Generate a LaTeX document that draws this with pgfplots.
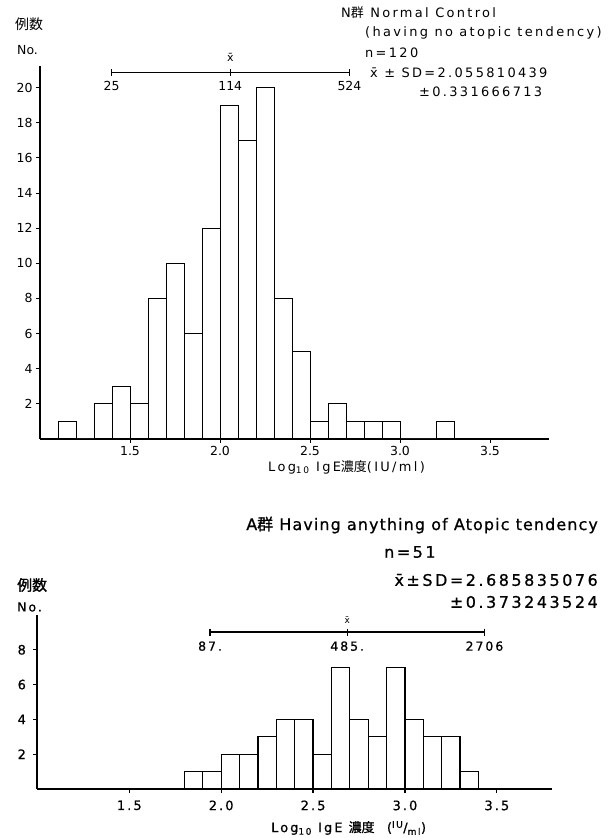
\documentclass[border=0pt]{standalone}
\usepackage{fontspec}
\setmainfont{DejaVu Sans}
\newfontfamily\cjk{Noto Sans CJK JP}
\newfontfamily\wide{DejaVu Sans}[LetterSpace=18]
\newfontfamily\bwide{DejaVu Sans}[LetterSpace=16, FakeBold=0.8]
\newfontfamily\btitle{DejaVu Sans}[LetterSpace=7, FakeBold=0.8]
\newfontfamily\bcjk{Noto Sans CJK JP}[FakeBold=1.2]
\usepackage{pgfplots}
\pgfplotsset{compat=1.18}

% counts per 0.1 log-unit bin (left edge, count); last row closes the final bin
\pgfplotstableread{
x    n
1.1  1
1.2  0
1.3  2
1.4  3
1.5  2
1.6  8
1.7  10
1.8  6
1.9  12
2.0  19
2.1  17
2.2  20
2.3  8
2.4  5
2.5  1
2.6  2
2.7  1
2.8  1
2.9  1
3.0  0
3.1  0
3.2  1
3.3  0
}\normalgroup
\pgfplotstableread{
x    n
1.8  1
1.9  1
2.0  2
2.1  2
2.2  3
2.3  4
2.4  4
2.5  2
2.6  7
2.7  4
2.8  3
2.9  7
3.0  4
3.1  3
3.2  3
3.3  1
3.4  0
}\atopicgroup

\pgfplotsset{
  histo/.style={
    scale only axis, clip=false,
    xmin=1.0, ymin=0,
    axis x line=bottom, axis y line=left,
    axis line style={-},
    xtick={1.5,2.0,2.5,3.0,3.5},
    xticklabels={1.5,2.0,2.5,3.0,3.5},
    tick align=outside, major tick length=4bp,
    tick style={black},
    /pgf/number format/assume math mode=true,
  },
}

\begin{document}
\begin{tikzpicture}
\useasboundingbox (0,0) rectangle (609bp,838bp);

% ---------- N group ----------
\begin{axis}[histo,
  at={(40bp,399bp)}, anchor=south west,
  width=509.4bp, height=372.5bp,
  xmax=3.83, ymax=21.2,
  ytick={2,4,...,20},
  axis line style={line width=1.1bp},
  tick style={line width=0.9bp},
  ticklabel style={font=\fontsize{12.5}{12.5}\selectfont},
]
\addplot[ybar interval, draw=black, fill=white, line width=1bp]
  table[x=x, y=n] {\normalgroup};
% mean +- 2SD on the log scale: 25, 114, 524 IU/ml
\addplot[black, line width=0.9bp, mark=|, mark size=3.5bp,
  mark options={line width=0.9bp}]
  coordinates {(1.398,20.85) (2.057,20.85) (2.719,20.85)};
\node[anchor=north, font=\fontsize{12.5}{12.5}\selectfont, inner sep=1bp]
  at (axis cs:1.398,20.4) {25};
\node[anchor=north, font=\fontsize{12.5}{12.5}\selectfont, inner sep=1bp]
  at (axis cs:2.057,20.4) {114};
\node[anchor=north, font=\fontsize{12.5}{12.5}\selectfont, inner sep=1bp]
  at (axis cs:2.719,20.4) {524};
\node[anchor=south, font=\fontsize{11}{11}\selectfont, inner sep=1bp]
  at (axis cs:2.057,21.4) {\={x}};
\end{axis}

\node[anchor=west, inner sep=0pt, font=\fontsize{14}{14}\selectfont]
  at (15bp,814bp) {\cjk 例数};
\node[anchor=west, inner sep=0pt, font=\fontsize{12.5}{12.5}\selectfont]
  at (17bp,788bp) {No.};
\begin{scope}[every node/.style={anchor=west, inner sep=0pt,
    font=\fontsize{13}{13}\selectfont\wide}]
\node at (341bp,825bp) {N{\cjk 群} Normal Control};
\node at (365bp,805bp) {(having no atopic tendency)};
\node at (365bp,785bp) {n=120};
\node at (370bp,765bp) {\={x} ± SD=2.055810439};
\node at (419bp,746bp) {±0.331666713};
\node at (268bp,371bp) {Log\textsubscript{10} IgE{\cjk 濃度}(IU/ml)};
\end{scope}

% ---------- A group ----------
\begin{axis}[histo,
  at={(37.4bp,49bp)}, anchor=south west,
  width=514.6bp, height=174bp,
  xmax=3.80, ymax=10,
  ytick={2,4,6,8},
  axis line style={line width=1.8bp},
  tick style={line width=1.2bp},
  ticklabel style={font=\fontsize{13}{13}\selectfont\bwide},
  xticklabel style={yshift=-4bp},
  yticklabel style={xshift=-4bp},
]
\addplot[ybar interval, draw=black, fill=white, line width=1.3bp]
  table[x=x, y=n] {\atopicgroup};
% mean +- 2SD on the log scale: 87, 485, 2706 IU/ml
\addplot[black, line width=1.3bp, mark=|, mark size=3.5bp,
  mark options={line width=1.3bp}]
  coordinates {(1.9395,9.02) (2.6857,9.02) (3.4323,9.02)};
\node[anchor=north, font=\fontsize{12.5}{12.5}\selectfont\bwide, inner sep=1bp]
  at (axis cs:1.9395,8.55) {87.};
\node[anchor=north, font=\fontsize{12.5}{12.5}\selectfont\bwide, inner sep=1bp]
  at (axis cs:2.6857,8.55) {485.};
\node[anchor=north, font=\fontsize{12.5}{12.5}\selectfont\bwide, inner sep=1bp]
  at (axis cs:3.4323,8.55) {2706};
\node[anchor=south, font=\fontsize{9}{9}\selectfont, inner sep=1bp]
  at (axis cs:2.6857,9.45) {\={x}};
\end{axis}

\node[anchor=west, inner sep=0pt, font=\fontsize{15}{15}\selectfont]
  at (17bp,253bp) {\bcjk 例数};
\node[anchor=west, inner sep=0pt, font=\fontsize{12.5}{12.5}\selectfont\bwide]
  at (17bp,231bp) {No.};
\begin{scope}[every node/.style={inner sep=0pt,
    font=\fontsize{16}{16}\selectfont\bwide}]
\node[anchor=east, font=\fontsize{16}{16}\selectfont\btitle]
  at (598bp,313bp) {A{\bcjk 群} Having anything of Atopic tendency};
\node[anchor=west] at (384bp,286bp) {n=51};
\node[anchor=east] at (598bp,258bp) {\={x}±SD=2.685835076};
\node[anchor=east] at (598bp,236bp) {±0.373243524};
\end{scope}
\node[anchor=west, inner sep=0pt, font=\fontsize{13}{13}\selectfont\bwide]
  at (271bp,10bp) {Log\textsubscript{10} IgE {\bcjk 濃度} \ (\textsuperscript{IU}/\textsubscript{ml})};
\end{tikzpicture}
\end{document}
